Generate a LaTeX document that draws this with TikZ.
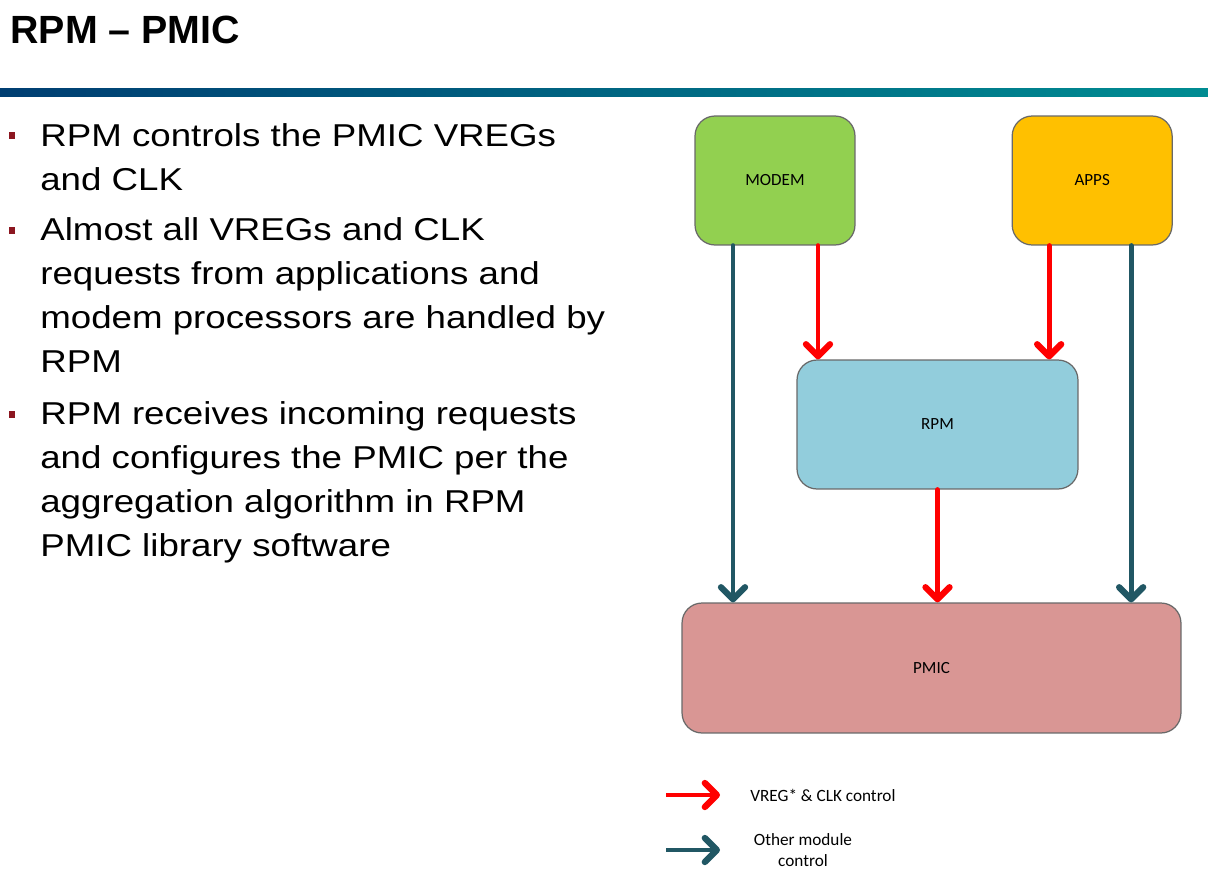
\documentclass[tikz,border=0pt]{standalone}
\usepackage{fontspec}
\setmainfont{Liberation Sans}
\newfontfamily\boxfont{Carlito}
\newfontfamily\bulletfont[FakeStretch=1.16]{Liberation Sans}
\usetikzlibrary{arrows.meta,positioning}
\definecolor{SlideNavy}{RGB}{0, 62, 114}
\definecolor{SlideTeal}{RGB}{0, 140, 146}
\definecolor{BulletRed}{RGB}{140, 22, 32}
\definecolor{ModemGreen}{RGB}{146, 208, 80}
\definecolor{AppsYellow}{RGB}{255, 192, 0}
\definecolor{RpmBlue}{RGB}{146, 205, 220}
\definecolor{PmicRose}{RGB}{217, 150, 148}
\definecolor{OtherTeal}{RGB}{33, 87, 100}
\definecolor{EdgeGray}{RGB}{105, 105, 105}

\begin{document}
\begin{tikzpicture}[
    x=0.02cm, y=-0.02cm,
    block/.style={draw=EdgeGray, line width=0.7pt, rectangle, rounded corners=0.4cm, minimum height=2.58cm, font=\boxfont\fontsize{9.7}{11}\selectfont},
    item/.style={anchor=base west, inner sep=0pt, align=left, font=\bulletfont\fontsize{18}{24.9}\selectfont},
    bullet/.style={fill=BulletRed, inner sep=0pt, minimum size=0.14cm},
    vreg/.style={-{Straight Barb[length=0.24cm, width=0.48cm, line width=3.6pt, round]}, line width=2.8pt, red, line cap=round},
    other/.style={-{Straight Barb[length=0.24cm, width=0.48cm, line width=3.6pt, round]}, line width=2.8pt, OtherTeal, line cap=round},
    legtext/.style={font=\boxfont\fontsize{9.8}{12}\selectfont, align=center, inner sep=0pt}
  ]
    \useasboundingbox (0,0) rectangle (1208,886);

    % title and bar
    \node[anchor=base west, inner sep=0pt, font=\bfseries\fontsize{22.4}{28}\selectfont] (title) at (10,43) {RPM -- PMIC};
    \shade[left color=SlideNavy, right color=SlideTeal] (0,88) rectangle (1208,96);

    % bullets (base = last line)
    \node[bullet] (d1) at (12,135) {};
    \node[item] (b1) at (40,190) {RPM controls the PMIC VREGs\\and CLK};
    \node[bullet] (d2) at (12,230) {};
    \node[item] (b2) at (40,372) {Almost all VREGs and CLK\\requests from applications and\\modem processors are handled by\\RPM};
    \node[bullet] (d3) at (12,414) {};
    \node[item] (b3) at (40,556) {RPM receives incoming requests\\and configures the PMIC per the\\aggregation algorithm in RPM\\PMIC library software};

    % blocks
    \node[block, fill=ModemGreen, minimum width=3.2cm] (modem) at (775,180.5) {MODEM};
    \node[block, fill=AppsYellow, minimum width=3.2cm, right=3.12cm of modem] (apps) {APPS};
    \node[block, fill=RpmBlue, minimum width=5.62cm] (rpm) at (937.5,424.5) {RPM};
    \node[block, fill=PmicRose, minimum width=9.98cm, minimum height=2.6cm] (pmic) at (931.5,668) {PMIC};

    \coordinate (m1) at ([xshift=-0.84cm]modem.south);
    \coordinate (m2) at ([xshift=0.86cm]modem.south);
    \coordinate (a1) at ([xshift=-0.86cm]apps.south);
    \coordinate (a2) at ([xshift=0.78cm]apps.south);

    \draw[other] (m1) -- (m1 |- pmic.north);
    \draw[vreg] (m2) -- (m2 |- rpm.north);
    \draw[vreg] (a1) -- (a1 |- rpm.north);
    \draw[other] (a2) -- (a2 |- pmic.north);
    \draw[vreg] (rpm.south) -- (rpm.south |- pmic.north);

    % legend
    \coordinate (l1) at (666,795);
    \coordinate (l2) at (720,795);
    \coordinate (l3) at (666,850);
    \coordinate (l4) at (720,850);
    \draw[vreg, line cap=butt] (l1) -- (l2);
    \draw[other, line cap=butt] (l3) -- (l4);
    \node[legtext, anchor=west] (k1) at (750,795) {VREG* \& CLK control};
    \node[legtext] (k2) at (803,850) {Other module\\control};
  \end{tikzpicture}
\end{document}
